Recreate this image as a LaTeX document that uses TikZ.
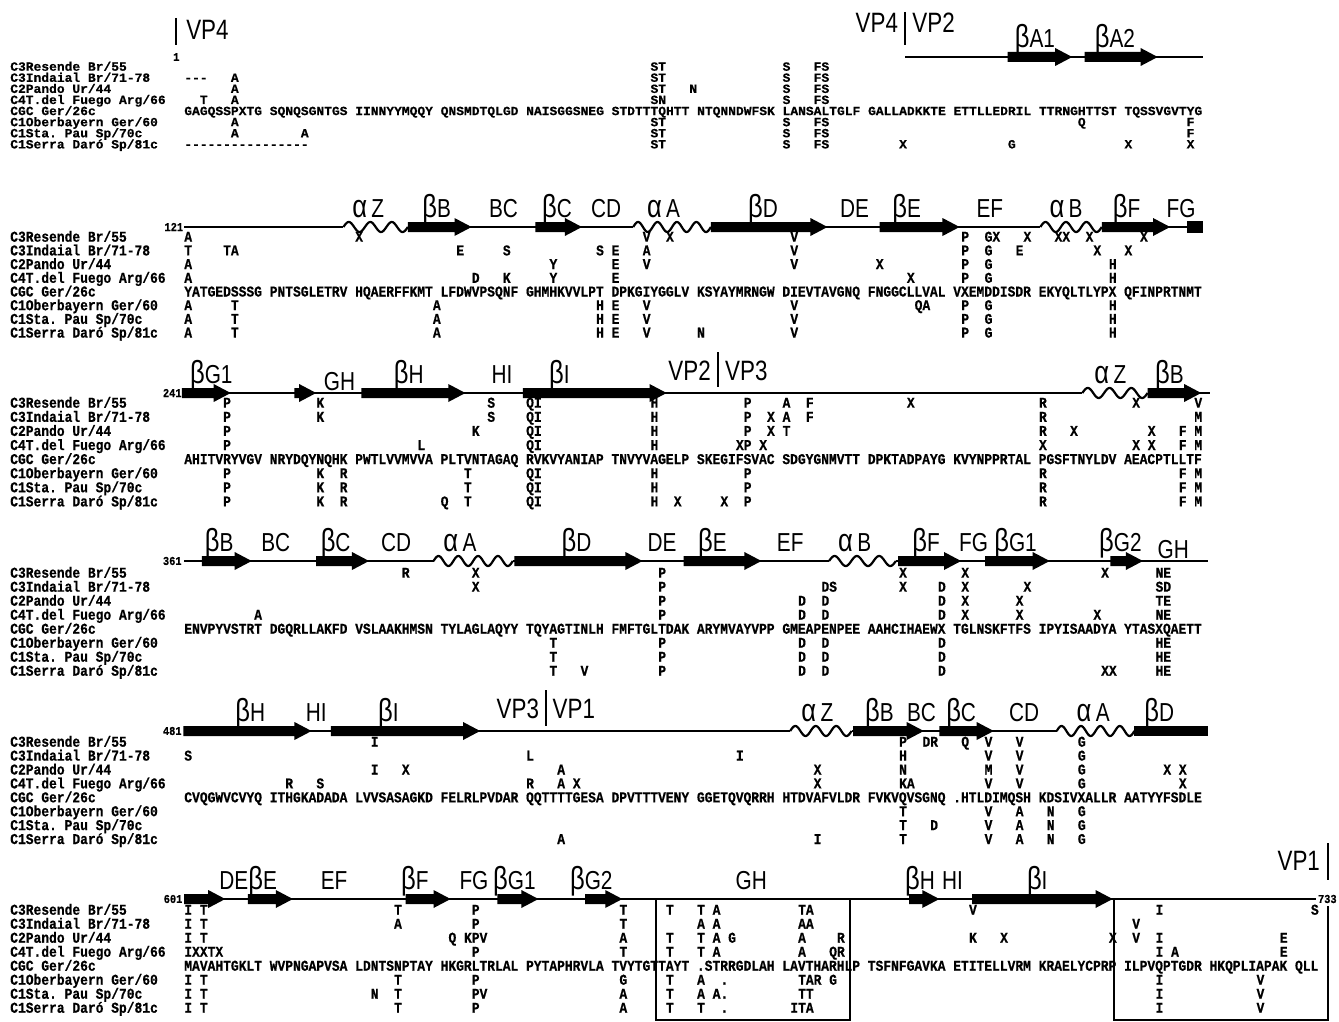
\documentclass[tikz,border=0pt]{standalone}
\usepackage{fontspec}
\newfontfamily\seqfont[FakeStretch=0.863,FakeBold=0.6]{Liberation Mono}
\newfontfamily\seqfontsm[FakeStretch=1.036,FakeBold=0.6]{Liberation Mono}
\newfontfamily\lblfont[FakeStretch=0.8]{Liberation Sans}
\frenchspacing

\newcommand\sbeta{{\fontsize{32}{32}\selectfont β}}
\newcommand\salpha{{\fontsize{32}{32}\selectfont α}\,}
\newcommand\dashes[1]{\foreach\k in {1,...,#1}{-\kern0pt}}

% beta strand: y, from, to (in columns)
\newcommand\bstrand[3]{%
  \fill (#2,#1-5) -- ({#3-2.2},#1-5) -- ({#3-2.2},#1-9) -- (#3,#1)
    -- ({#3-2.2},#1+9) -- ({#3-2.2},#1+5) -- (#2,#1+5) -- cycle;}
% alpha helix: y, from, to
\newcommand\ahelix[3]{%
  \pgfmathsetmacro\hn{max(1,round((#3-#2)/2.6))}%
  \pgfmathsetmacro\hp{(#3-#2)/\hn}%
  \draw[white,line width=4pt] (#2,#1) -- (#3,#1);
  \draw[coil,line width=2.2pt] plot[domain=#2:#3,samples=90,smooth] (\x,{#1-5*sin(360*(\x-#2)/\hp)});}
% strain names: prefix, first baseline, row pitch
\newcommand\strains[3]{%
  \foreach \s [count=\i from 0] in {C3Resende Br/55, C3Indaial Br/71-78,
      C2Pando Ur/44, C4T.del Fuego Arg/66, CGC Ger/26c, C1Oberbayern Ger/60,
      C1Sta. Pau Sp/70c, C1Serra Daró Sp/81c}
    \node[aa] (#1\i) at (-22.9,{#2+\i*#3}) {\s};}
% residues that differ from CGC: prefix, baseline, column/letters
\newcommand\vrow[3]{%
  \foreach \c/\t in {#3} \node[aa] (#1-\c) at (\c-.5,#2) {\t};}

\begin{document}
\begin{tikzpicture}[x=7.77pt, y=-1pt, shift={(188pt,0pt)},
  aa/.style={font=\seqfont\bfseries\fontsize{15}{15}\selectfont, inner sep=0pt, anchor=base west},
  lbl/.style={font=\lblfont\fontsize{26}{26}\selectfont, inner sep=0pt, anchor=base},
  vp/.style={font=\lblfont\fontsize{28}{28}\selectfont, inner sep=0pt, anchor=base},
  num/.style={font=\seqfont\bfseries\fontsize{12}{12}\selectfont, inner sep=0pt},
  coil/.style={line width=1.8pt},
  cut/.style={line width=2pt}]
\useasboundingbox (-24.196,0) rectangle (148.134,1022);

% ---- 1-120
\begin{scope}[aa/.style={font=\seqfontsm\bfseries\fontsize{12.5}{12.5}\selectfont, inner sep=0pt, anchor=base west}]
\draw[cut] (-1.5,18) -- (-1.5,45);
\node[vp, anchor=base west] (vp4a) at (-0.25,40) {VP4};
\node[num] (n1) at (-1.5,57) {1};
\draw[cut] (92.3,12) -- (92.3,45);
\node[vp, anchor=base east] (vp4b) at (91.4,33) {VP4};
\node[vp, anchor=base west] (vp2a) at (93.2,33) {VP2};
\draw[coil] (92.3,57) -- (130.6,57);
\bstrand{57}{105.5}{113.8}
\bstrand{57}{115.4}{124.8}
\node[lbl] (b1A1) at (109,48) {\sbeta A1};
\node[lbl] (b1A2) at (119.3,48) {\sbeta A2};
\strains{b1s}{70.7}{11.1}
\node[aa] (cgc1) at (-.5,115.1) {GAGQSSPXTG SQNQSGNTGS IINNYYMQQY QNSMDTQLGD NAISGGSNEG STDTTTQHTT NTQNNDWFSK LANSALTGLF GALLADKKTE ETTLLEDRIL TTRNGHTTST TQSSVGVTYG};
\vrow{b1r1}{70.7}{60/ST, 77/S, 81/FS}
\vrow{b1r2}{81.8}{0/\dashes{3}, 6/A, 60/ST, 77/S, 81/FS}
\vrow{b1r3}{92.9}{6/A, 60/ST, 65/N, 77/S, 81/FS}
\vrow{b1r4}{104.0}{2/T, 6/A, 60/SN, 77/S, 81/FS}
\vrow{b1r6}{126.2}{6/A, 60/ST, 77/S, 81/FS, 115/Q, 129/F}
\vrow{b1r7}{137.3}{6/A, 15/A, 60/ST, 77/S, 81/FS, 129/F}
\vrow{b1r8}{148.4}{0/\dashes{16}, 60/ST, 77/S, 81/FS, 92/X, 106/G, 121/X, 129/X}
\end{scope}

% ---- 121-240
\node[num, anchor=east] (n121) at (-0.6,227) {121};
\draw[coil] (-0.5,227) -- (128.6,227);
\ahelix{227}{20}{28.3}
\ahelix{227}{57.3}{67.3}
\ahelix{227}{109.7}{117.6}
\bstrand{227}{28.3}{36.5}
\bstrand{227}{44.7}{50.7}
\bstrand{227}{67.3}{82.3}
\bstrand{227}{89}{99.3}
\bstrand{227}{117.6}{126.4}
\fill (128.6,221) rectangle (130.6,233);
\node[lbl] (b2aZ) at (23.2,217) {\salpha Z};
\node[lbl] (b2bB) at (32,217) {\sbeta B};
\node[lbl] (b2BC) at (40.6,217) {BC};
\node[lbl] (b2bC) at (47.5,217) {\sbeta C};
\node[lbl] (b2CD) at (53.8,217) {CD};
\node[lbl] (b2aA) at (61.2,217) {\salpha A};
\node[lbl] (b2bD) at (74,217) {\sbeta D};
\node[lbl] (b2DE) at (85.8,217) {DE};
\node[lbl] (b2bE) at (92.5,217) {\sbeta E};
\node[lbl] (b2EF) at (103.2,217) {EF};
\node[lbl] (b2aB) at (113,217) {\salpha B};
\node[lbl] (b2bF) at (120.8,217) {\sbeta F};
\node[lbl] (b2FG) at (127.8,217) {FG};
\strains{b2s}{241.7}{13.7}
\node[aa] (cgc2) at (-.5,296.5) {YATGEDSSSG PNTSGLETRV HQAERFFKMT LFDWVPSQNF GHMHKVVLPT DPKGIYGGLV KSYAYMRNGW DIEVTAVGNQ FNGGCLLVAL VXEMDDISDR EKYQLTLYPX QFINPRTNMT};
\vrow{b2r1}{241.7}{0/A, 22/X, 59/V, 62/X, 78/V, 100/P, 103/GX, 108/X, 112/XX, 116/X, 123/X}
\vrow{b2r2}{255.4}{0/T, 5/TA, 35/E, 41/S, 53/S, 55/E, 59/A, 78/V, 100/P, 103/G, 107/E, 117/X, 121/X}
\vrow{b2r3}{269.1}{0/A, 47/Y, 55/E, 59/V, 78/V, 89/X, 100/P, 103/G, 119/H}
\vrow{b2r4}{282.8}{0/A, 37/D, 41/K, 47/Y, 55/E, 93/X, 100/P, 103/G, 119/H}
\vrow{b2r6}{310.2}{0/A, 6/T, 32/A, 53/H, 55/E, 59/V, 78/V, 94/QA, 100/P, 103/G, 119/H}
\vrow{b2r7}{323.9}{0/A, 6/T, 32/A, 53/H, 55/E, 59/V, 78/V, 100/P, 103/G, 119/H}
\vrow{b2r8}{337.6}{0/A, 6/T, 32/A, 53/H, 55/E, 59/V, 66/N, 78/V, 100/P, 103/G, 119/H}

% ---- 241-360
\node[num, anchor=east] (n241) at (-0.8,393) {241};
\draw[coil] (-0.8,393) -- (131.5,393);
\ahelix{393}{115.1}{123.5}
\bstrand{393}{-0.8}{5.5}
\bstrand{393}{13.7}{16.5}
\bstrand{393}{22.3}{35.7}
\bstrand{393}{43.1}{61.6}
\bstrand{393}{123.5}{130.4}
\node[lbl] (b3bG1) at (3,383) {\sbeta G1};
\node[lbl] (b3GH) at (19.5,390) {GH};
\node[lbl] (b3bH) at (28.4,383) {\sbeta H};
\node[lbl] (b3HI) at (40.4,383) {HI};
\node[lbl] (b3bI) at (47.8,383) {\sbeta I};
\node[lbl] (b3aZ) at (118.7,383) {\salpha Z};
\node[lbl] (b3bB) at (126.3,383) {\sbeta B};
\draw[cut] (68.2,352) -- (68.2,387);
\node[vp, anchor=base east] (vp2b) at (67.3,380) {VP2};
\node[vp, anchor=base west] (vp3a) at (69.1,380) {VP3};
\strains{b3s}{407.7}{14.1}
\node[aa] (cgc3) at (-.5,464.1) {AHITVRYVGV NRYDQYNQHK PWTLVVMVVA PLTVNTAGAQ RVKVYANIAP TNVYVAGELP SKEGIFSVAC SDGYGNMVTT DPKTADPAYG KVYNPPRTAL PGSFTNYLDV AEACPTLLTF};
\vrow{b3r1}{407.7}{5/P, 17/K, 39/S, 44/QI, 60/H, 72/P, 77/A, 80/F, 93/X, 110/R, 122/X, 130/V}
\vrow{b3r2}{421.8}{5/P, 17/K, 39/S, 44/QI, 60/H, 72/P, 75/X, 77/A, 80/F, 110/R, 130/M}
\vrow{b3r3}{435.9}{5/P, 37/K, 44/QI, 60/H, 72/P, 75/X, 77/T, 110/R, 114/X, 124/X, 128/F, 130/M}
\vrow{b3r4}{450.0}{5/P, 30/L, 44/QI, 60/H, 71/XP, 74/X, 110/X, 122/X, 124/X, 128/F, 130/M}
\vrow{b3r6}{478.2}{5/P, 17/K, 20/R, 36/T, 44/QI, 60/H, 72/P, 110/R, 128/F, 130/M}
\vrow{b3r7}{492.3}{5/P, 17/K, 20/R, 36/T, 44/QI, 60/H, 72/P, 110/R, 128/F, 130/M}
\vrow{b3r8}{506.4}{5/P, 17/K, 20/R, 33/Q, 36/T, 44/QI, 60/H, 63/X, 69/X, 72/P, 110/R, 128/F, 130/M}

% ---- 361-480
\node[num, anchor=east] (n361) at (-0.8,561) {361};
\draw[coil] (-0.5,561) -- (131.3,561);
\ahelix{561}{31.6}{41.8}
\ahelix{561}{82.5}{91.1}
\bstrand{561}{1.8}{8.2}
\bstrand{561}{16.5}{23.3}
\bstrand{561}{42}{58.5}
\bstrand{561}{63.8}{73.8}
\bstrand{561}{91.4}{99.5}
\bstrand{561}{102.6}{110.9}
\bstrand{561}{118.7}{122.9}
\node[lbl] (b4bB) at (4,551) {\sbeta B};
\node[lbl] (b4BC) at (11.3,551) {BC};
\node[lbl] (b4bC) at (19,551) {\sbeta C};
\node[lbl] (b4CD) at (26.8,551) {CD};
\node[lbl] (b4aA) at (35,551) {\salpha A};
\node[lbl] (b4bD) at (50,551) {\sbeta D};
\node[lbl] (b4DE) at (61,551) {DE};
\node[lbl] (b4bE) at (67.5,551) {\sbeta E};
\node[lbl] (b4EF) at (77.5,551) {EF};
\node[lbl] (b4aB) at (85.8,551) {\salpha B};
\node[lbl] (b4bF) at (95,551) {\sbeta F};
\node[lbl] (b4FG) at (101.1,551) {FG};
\node[lbl] (b4bG1) at (106.5,551) {\sbeta G1};
\node[lbl] (b4bG2) at (120,551) {\sbeta G2};
\node[lbl] (b4GH) at (126.8,558) {GH};
\strains{b4s}{577.7}{14}
\node[aa] (cgc4) at (-.5,633.7) {ENVPYVSTRT DGQRLLAKFD VSLAAKHMSN TYLAGLAQYY TQYAGTINLH FMFTGLTDAK ARYMVAYVPP GMEAPENPEE AAHCIHAEWX TGLNSKFTFS IPYISAADYA YTASXQAETT};
\vrow{b4r1}{577.7}{28/R, 37/X, 61/P, 92/X, 100/X, 118/X, 125/NE}
\vrow{b4r2}{591.7}{37/X, 61/P, 82/DS, 92/X, 97/D, 100/X, 108/X, 125/SD}
\vrow{b4r3}{605.7}{61/P, 79/D, 82/D, 97/D, 100/X, 107/X, 125/TE}
\vrow{b4r4}{619.7}{9/A, 61/P, 79/D, 82/D, 97/D, 100/X, 107/X, 117/X, 125/NE}
\vrow{b4r6}{647.7}{47/T, 61/P, 79/D, 82/D, 97/D, 125/HE}
\vrow{b4r7}{661.7}{47/T, 61/P, 79/D, 82/D, 97/D, 125/HE}
\vrow{b4r8}{675.7}{47/T, 51/V, 61/P, 79/D, 82/D, 97/D, 118/XX, 125/HE}

% ---- 481-600
\node[num, anchor=east] (n481) at (-0.8,731) {481};
\draw[coil] (-0.5,731) -- (121.8,731);
\ahelix{731}{77.5}{85.4}
\ahelix{731}{111.8}{121.8}
\bstrand{731}{-0.6}{15.9}
\bstrand{731}{18.4}{37.6}
\bstrand{731}{85.6}{94.7}
\bstrand{731}{96.7}{103.7}
\fill (121.8,726) rectangle (131.3,736);
\node[lbl] (b5bH) at (8,721) {\sbeta H};
\node[lbl] (b5HI) at (16.5,721) {HI};
\node[lbl] (b5bI) at (25.8,721) {\sbeta I};
\node[lbl] (b5aZ) at (81,721) {\salpha Z};
\node[lbl] (b5bB) at (89,721) {\sbeta B};
\node[lbl] (b5BC) at (94.4,721) {BC};
\node[lbl] (b5bC) at (99.5,721) {\sbeta C};
\node[lbl] (b5CD) at (107.6,721) {CD};
\node[lbl] (b5aA) at (116.5,721) {\salpha A};
\node[lbl] (b5bD) at (125,721) {\sbeta D};
\draw[cut] (46.1,690) -- (46.1,726);
\node[vp, anchor=base east] (vp3b) at (45.2,718) {VP3};
\node[vp, anchor=base west] (vp1a) at (46.9,718) {VP1};
\strains{b5s}{746.7}{13.9}
\node[aa] (cgc5) at (-.5,802.3) {CVQGWVCVYQ ITHGKADADA LVVSASAGKD FELRLPVDAR QQTTTTGESA DPVTTTVENY GGETQVQRRH HTDVAFVLDR FVKVQVSGNQ .HTLDIMQSH KDSIVXALLR AATYYFSDLE};
\vrow{b5r1}{746.7}{24/I, 92/P, 95/DR, 100/Q, 103/V, 107/V, 115/G}
\vrow{b5r2}{760.6}{0/S, 44/L, 71/I, 92/H, 103/V, 107/V, 115/G}
\vrow{b5r3}{774.5}{24/I, 28/X, 48/A, 81/X, 92/N, 103/M, 107/V, 115/G, 126/X, 128/X}
\vrow{b5r4}{788.4}{13/R, 17/S, 44/R, 48/A, 50/X, 81/X, 92/KA, 103/V, 107/V, 115/G, 128/X}
\vrow{b5r6}{816.2}{92/T, 103/V, 107/A, 111/N, 115/G}
\vrow{b5r7}{830.1}{92/T, 96/D, 103/V, 107/A, 111/N, 115/G}
\vrow{b5r8}{844.0}{48/A, 81/I, 92/T, 103/V, 107/A, 111/N, 115/G}

% ---- 601-733
\node[num, anchor=east] (n601) at (-0.7,899) {601};
\draw[coil] (-0.5,899) -- (145.2,899);
\bstrand{899}{-0.5}{4.8}
\bstrand{899}{7.7}{13.5}
\bstrand{899}{28}{33.8}
\bstrand{899}{39.8}{45.1}
\bstrand{899}{51.1}{55.9}
\bstrand{899}{92.8}{96.7}
\bstrand{899}{100.9}{119}
\node[num, anchor=west] (n733) at (145.4,899) {733};
\node[lbl] (b6DE) at (5.9,889) {DE};
\node[lbl] (b6bE) at (9.6,889) {\sbeta E};
\node[lbl] (b6EF) at (18.8,889) {EF};
\node[lbl] (b6bF) at (29.2,889) {\sbeta F};
\node[lbl] (b6FG) at (36.8,889) {FG};
\node[lbl] (b6bG1) at (42,889) {\sbeta G1};
\node[lbl] (b6bG2) at (51.9,889) {\sbeta G2};
\node[lbl] (b6GH) at (72.5,889) {GH};
\node[lbl] (b6bH) at (94.2,889) {\sbeta H};
\node[lbl] (b6HI) at (98.4,889) {HI};
\node[lbl] (b6bI) at (109.3,889) {\sbeta I};
\node[vp, anchor=base east] (vp1b) at (145.7,870) {VP1};
\draw[cut] (146.7,843) -- (146.7,880);
\draw[cut] (60.2,899) -- (60.2,1020) -- (85.2,1020) -- (85.2,899);
\draw[cut] (119.2,899) -- (119.2,1020) -- (146.7,1020) -- (146.7,906);
\strains{b6s}{914.7}{14}
\node[aa] (cgc6) at (-.5,970.7) {MAVAHTGKLT WVPNGAPVSA LDNTSNPTAY HKGRLTRLAL PYTAPHRVLA TVYTGTTAYT .STRRGDLAH LAVTHARHLP TSFNFGAVKA ETITELLVRM KRAELYCPRP ILPVQPTGDR HKQPLIAPAK QLL};
\vrow{b6r1}{914.7}{0/I, 2/T, 27/T, 37/P, 56/T, 62/T, 66/T, 68/A, 79/TA, 101/V, 125/I, 145/S}
\vrow{b6r2}{928.7}{0/I, 2/T, 27/A, 37/P, 56/T, 66/A, 68/A, 79/AA, 122/V}
\vrow{b6r3}{942.7}{0/I, 2/T, 34/Q, 36/KPV, 56/A, 62/T, 66/T, 68/A, 70/G, 79/A, 84/R, 101/K, 105/X, 119/X, 122/V, 125/I, 141/E}
\vrow{b6r4}{956.7}{0/IXXTX, 37/P, 56/T, 62/T, 66/T, 68/A, 79/A, 83/QR, 125/I, 127/A, 141/E}
\vrow{b6r6}{984.7}{0/I, 2/T, 27/T, 37/P, 56/G, 62/T, 66/A, 69/., 79/TA, 81/R, 83/G, 125/I, 138/V}
\vrow{b6r7}{998.7}{0/I, 2/T, 24/N, 27/T, 37/PV, 56/A, 62/T, 66/A, 68/A., 79/TT, 125/I, 138/V}
\vrow{b6r8}{1012.7}{0/I, 2/T, 27/T, 37/P, 56/A, 62/T, 66/T, 69/., 78/ITA, 125/I, 138/V}
\end{tikzpicture}
\end{document}
